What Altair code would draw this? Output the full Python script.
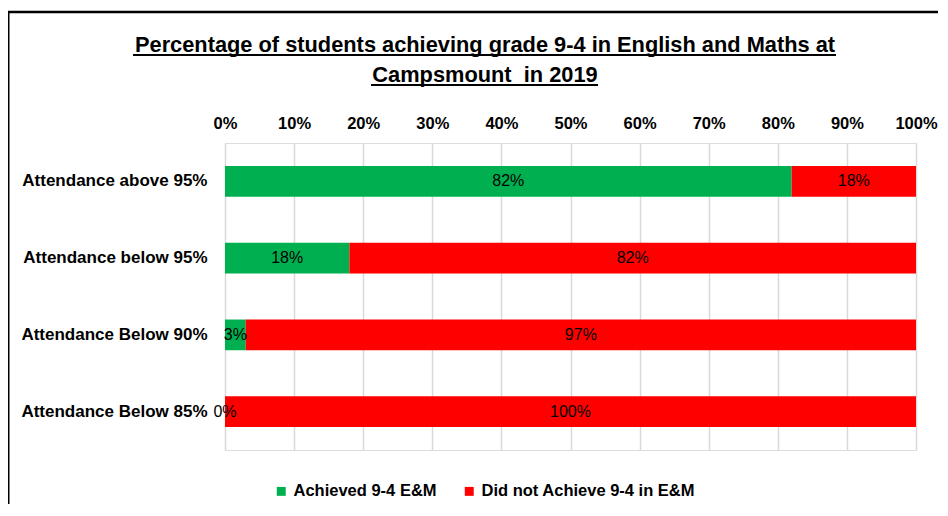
import altair as alt
import pandas as pd

categories = ["Attendance above 95%", "Attendance below 95%", "Attendance Below 90%", "Attendance Below 85%"]
series = ["Achieved 9-4 E&M", "Did not Achieve 9-4 in E&M"]
achieved = [82, 18, 3, 0]
not_achieved = [18, 82, 97, 100]
colors = ["#00B050", "#FF0000"]
title_lines = ["Percentage of students achieving grade 9-4 in English and Maths at", "Campsmount\u00a0 in 2019"]

rows = []
for i, c in enumerate(categories):
    rows.append({"cat": c, "series": series[0], "value": achieved[i], "order": 0})
    rows.append({"cat": c, "series": series[1], "value": not_achieved[i], "order": 1})
df = pd.DataFrame(rows)
df["label"] = df["value"].astype(str) + "%"
df["frac"] = df["value"] / 100.0

W, H = 691, 307
LABEL_FONT = "Liberation Sans"

base = alt.Chart(df).encode(
    y=alt.Y("cat:N", sort=categories,
            scale=alt.Scale(paddingInner=0.6, paddingOuter=0.3),
            axis=alt.Axis(title=None, domain=False, ticks=False, labelFontWeight="bold",
                          labelFontSize=17, labelFont=LABEL_FONT, labelColor="#000000",
                          labelPadding=18, labelLimit=300)),
)

bars = base.mark_bar().encode(
    x=alt.X("frac:Q", stack="zero",
            scale=alt.Scale(domain=[0, 1], nice=False),
            axis=alt.Axis(orient="top", format=".0%", values=[i / 10 for i in range(11)],
                          title=None, domain=False, ticks=False,
                          grid=True, gridColor="#d9d9d9", gridWidth=1.5,
                          labelFontWeight="bold", labelFontSize=16.5, labelFont=LABEL_FONT,
                          labelColor="#000000", labelPadding=12, labelFlush=False)),
    color=alt.Color("series:N", sort=series,
                    scale=alt.Scale(domain=series, range=colors),
                    legend=alt.Legend(title=None, orient="none", direction="horizontal",
                                      legendX=48, legendY=340,
                                      symbolType="square", symbolSize=80, symbolStrokeWidth=0,
                                      labelFontSize=16.5, labelFont=LABEL_FONT, labelFontWeight="bold",
                                      labelColor="#000000", columnPadding=24, labelLimit=400)),
    order=alt.Order("order:Q"),
)

labels = base.mark_text(fontSize=16, font=LABEL_FONT, color="#000000").encode(
    x=alt.X("mid:Q"),
    text="label:N",
).transform_stack(
    stack="frac", groupby=["cat"], sort=[alt.SortField("order")], as_=["s0", "s1"]
).transform_calculate(mid="(datum.s0 + datum.s1) / 2")

title = alt.Chart(pd.DataFrame({"t": ["\n".join(title_lines)]})).mark_text(
    fontSize=21.8, font=LABEL_FONT, fontWeight="bold", color="#000000",
    lineBreak="\n", lineHeight=30, baseline="alphabetic", align="center"
).encode(x=alt.value(260), y=alt.value(-91), text="t:N")

u1 = alt.Chart(pd.DataFrame({"a": [0]})).mark_rule(color="#000000", strokeWidth=2).encode(
    x=alt.value(-92), x2=alt.value(611), y=alt.value(-88))
u2 = alt.Chart(pd.DataFrame({"a": [0]})).mark_rule(color="#000000", strokeWidth=2).encode(
    x=alt.value(146), x2=alt.value(373), y=alt.value(-58))
border_top = alt.Chart(pd.DataFrame({"a": [0]})).mark_rule(color="#000000", strokeWidth=2.5).encode(
    x=alt.value(-217), x2=alt.value(W + 40), y=alt.value(-131))
border_left = alt.Chart(pd.DataFrame({"a": [0]})).mark_rule(color="#000000", strokeWidth=3).encode(
    x=alt.value(-217), y=alt.value(-131), y2=alt.value(H + 60))

chart = alt.layer(bars, labels, title, u1, u2, border_top, border_left).properties(
    width=W, height=H,
    autosize=alt.AutoSizeParams(type="none"),
    padding={"left": 217, "top": 135, "right": 22, "bottom": 54},
).configure_view(stroke=None).configure(background="#ffffff")

chart.save("out.html", embed_options={"renderer": "svg", "actions": False})
